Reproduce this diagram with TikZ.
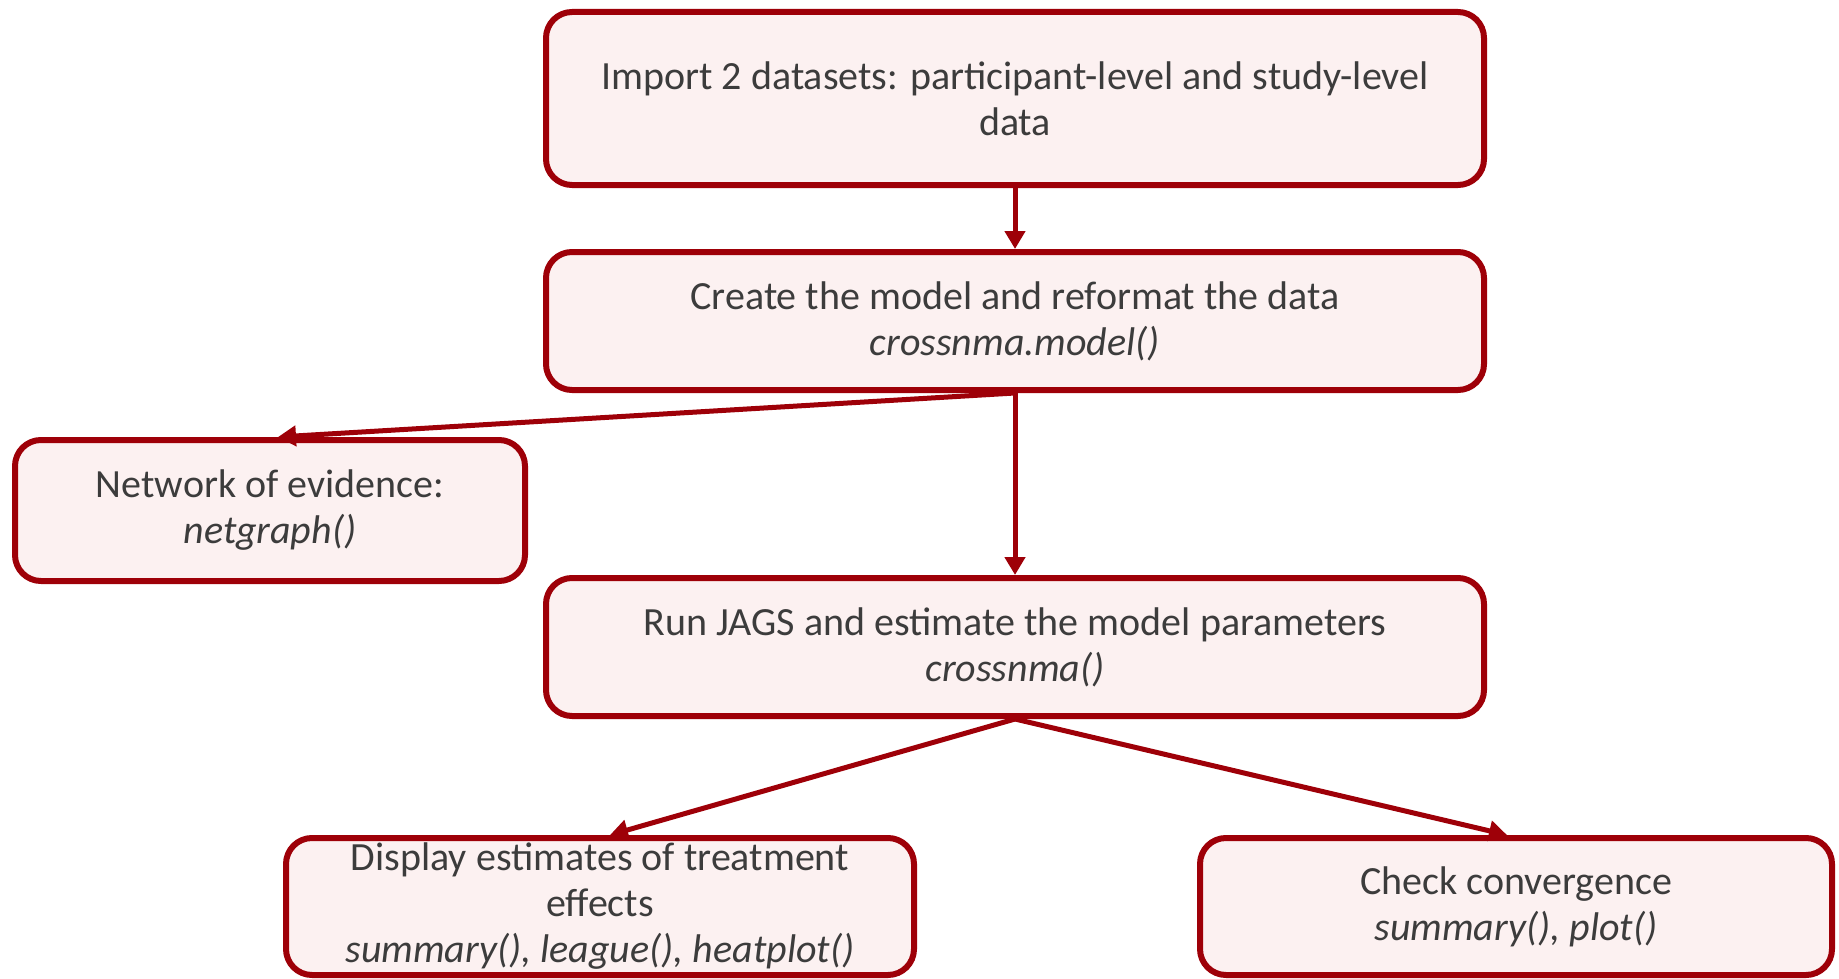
\documentclass[tikz,border=0pt]{standalone}
\usepackage{fontspec}
\setmainfont{Carlito}
\usetikzlibrary{arrows.meta}
\definecolor{boxred}{RGB}{158,0,8}
\definecolor{boxfill}{RGB}{252,241,241}
\definecolor{txtgray}{RGB}{60,60,60}
\begin{document}
\begin{tikzpicture}[x=1pt,y=1pt,
  stepbox/.style={draw=boxred, line width=6pt, fill=boxfill, rounded corners=26pt,
    text=txtgray, align=center, inner sep=0pt,
    font=\fontsize{40}{46}\selectfont},
  flow/.style={draw=boxred, line width=5pt, -{Triangle[length=18pt,width=20pt]}}]
\useasboundingbox (0,0) rectangle (1839,-979);

% workflow steps
\node[stepbox, minimum width=938pt, minimum height=173pt] (imp) at (1015,-98.5)
  {Import 2 datasets: participant-level and study-level\\data};
\node[stepbox, minimum width=938pt, minimum height=138pt] (mod) at (1015,-321)
  {Create the model and reformat the data\\\textit{crossnma.model()}};
\node[stepbox, minimum width=510pt, minimum height=141pt] (net) at (270,-510.5)
  {Network of evidence:\\\textit{netgraph()}};
\node[stepbox, minimum width=938pt, minimum height=138pt] (run) at (1015,-647)
  {Run JAGS and estimate the model parameters\\\textit{crossnma()}};
\node[stepbox, minimum width=628pt, minimum height=137pt] (disp) at (600,-906.5)
  {Display estimates of treatment\\effects\\\textit{summary(), league(), heatplot()}};
\node[stepbox, minimum width=632pt, minimum height=137pt] (conv) at (1516,-906.5)
  {Check convergence\\\textit{summary(), plot()}};

% connectors
\draw[flow] (imp.south) -- (mod.north);
\draw[flow] (mod.south) -- ([xshift=8pt]net.north);
\draw[flow] (mod.south) -- (run.north);
\draw[flow] (run.south) -- ([xshift=10pt]disp.north);
\draw[flow] (run.south) -- ([xshift=-9pt]conv.north);
\end{tikzpicture}
\end{document}
